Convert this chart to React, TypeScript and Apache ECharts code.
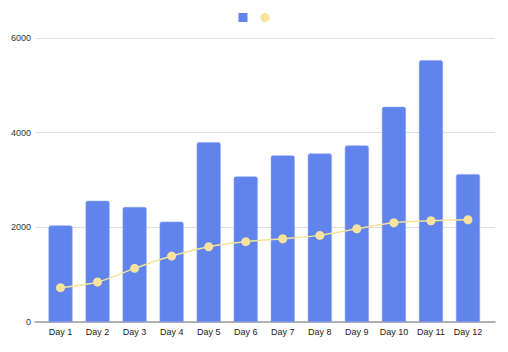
import React, { useEffect, useRef } from "react";
import * as echarts from "echarts";

const categories = ["Day 1", "Day 2", "Day 3", "Day 4", "Day 5", "Day 6", "Day 7", "Day 8", "Day 9", "Day 10", "Day 11", "Day 12"];
const barValues = [2040, 2560, 2430, 2120, 3800, 3075, 3520, 3560, 3730, 4546, 5530, 3124];
const lineValues = [725, 845, 1133, 1393, 1590, 1696, 1759, 1830, 1970, 2097, 2139, 2160];
const yTicks = { min: 0, max: 6000, interval: 2000 };

export default function App() {
  const ref = useRef<HTMLDivElement>(null);
  useEffect(() => {
    const chart = echarts.init(ref.current!, undefined, { renderer: "svg" });
    const font = "'Liberation Sans', Arial, sans-serif";
    chart.setOption({
      animation: false,
      backgroundColor: "#ffffff",
      textStyle: { fontFamily: font },
      legend: {
        top: 8,
        left: "center",
        itemWidth: 9,
        itemHeight: 9,
        itemGap: 13,
        formatter: () => "",
        itemStyle: { borderWidth: 0 },
        data: [
          { name: "Sales", icon: "rect" },
          { name: "Average", icon: "circle" },
        ],
      },
      grid: [
        { left: 35, right: 13, top: 38, bottom: 30 },
        { left: 42, right: 21.5, top: 38, bottom: 30 },
      ],
      xAxis: [
        {
          gridIndex: 0,
          type: "value",
          min: 0,
          max: 1,
          axisLabel: { show: false },
          axisTick: { show: false },
          splitLine: { show: false },
          axisLine: { show: true, onZero: false, lineStyle: { color: "#9e9e9e", width: 1.5 } },
        },
        {
          gridIndex: 1,
          type: "category",
          data: categories,
          axisLine: { show: false },
          axisTick: { show: false },
          axisLabel: { color: "#222222", fontSize: 9, margin: 5, fontFamily: font, interval: 0 },
        },
      ],
      yAxis: [
        {
          gridIndex: 0,
          type: "value",
          min: yTicks.min,
          max: yTicks.max,
          interval: yTicks.interval,
          axisLine: { show: false },
          axisTick: { show: false },
          axisLabel: {
            color: "#333333",
            fontSize: 9,
            margin: 4,
            fontFamily: font,
            formatter: (v: number) => String(v),
          },
          splitLine: { lineStyle: { color: "#e0e0e0", width: 1 } },
        },
        {
          gridIndex: 1,
          type: "value",
          min: yTicks.min,
          max: yTicks.max,
          interval: yTicks.interval,
          show: false,
          splitLine: { show: false },
        },
      ],
      series: [
        {
          name: "Sales",
          type: "bar",
          xAxisIndex: 1,
          yAxisIndex: 1,
          data: barValues,
          barWidth: 24,
          itemStyle: {
            color: "#6083ec",
            borderColor: "#8aa4f0",
            borderWidth: 0.5,
            borderRadius: [2, 2, 0, 0],
          },
        },
        {
          name: "Average",
          type: "line",
          xAxisIndex: 1,
          yAxisIndex: 1,
          data: lineValues,
          smooth: 0.3,
          symbol: "circle",
          symbolSize: 9,
          lineStyle: { color: "#f5e29a", width: 1.5 },
          itemStyle: { color: "#f7e39e" },
          z: 3,
        },
      ],
    });
    return () => chart.dispose();
  }, []);
  return <div ref={ref} style={{ width: 508, height: 352, margin: -8 }} />;
}
